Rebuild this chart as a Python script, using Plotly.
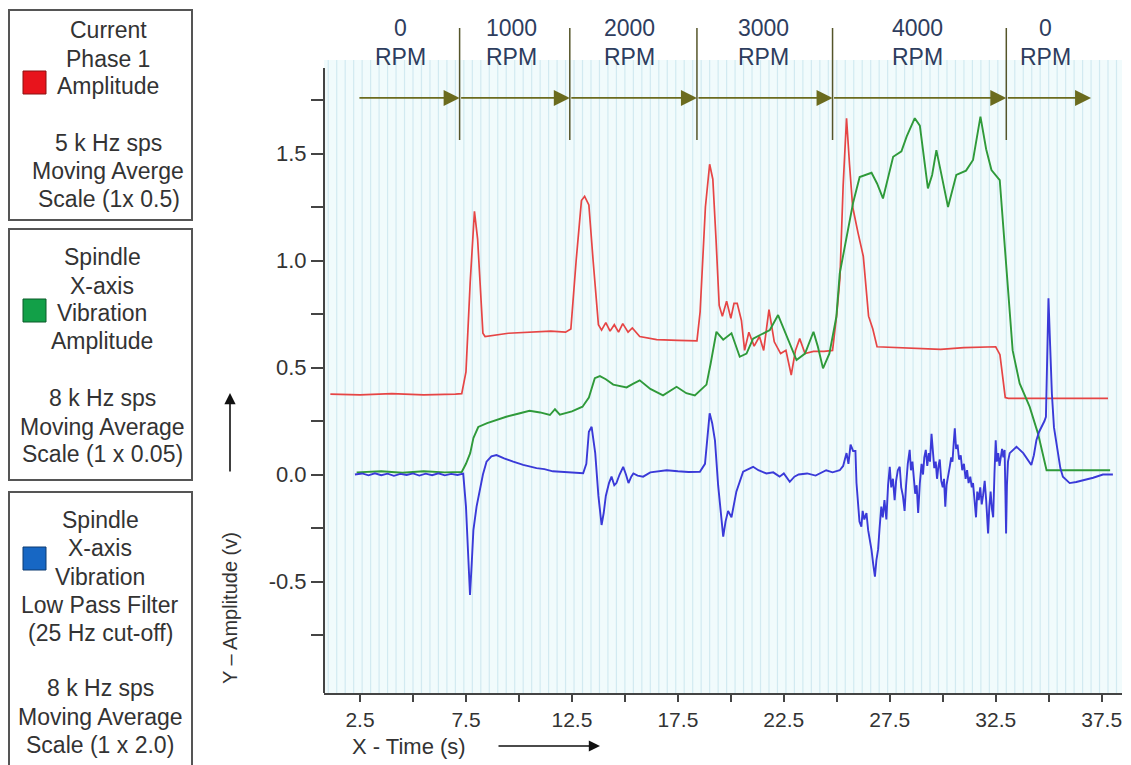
import plotly.graph_objects as go

# ---------------- data ----------------
red_points = [
    (1.1, 0.376), (2.5, 0.372), (4.0, 0.378), (5.5, 0.372), (7.0, 0.376), (7.3, 0.378),
    (7.5, 0.48), (7.7, 0.90), (7.9, 1.23), (8.05, 1.10), (8.3, 0.66), (8.4, 0.645),
    (9.5, 0.66), (10.5, 0.665), (11.5, 0.67), (12.2, 0.665), (12.45, 0.68), (12.7, 1.0),
    (12.95, 1.28), (13.1, 1.30), (13.3, 1.26), (13.5, 1.0), (13.75, 0.70), (13.9, 0.675),
    (14.1, 0.71), (14.3, 0.67), (14.5, 0.70), (14.7, 0.665), (14.9, 0.705), (15.15, 0.665),
    (15.35, 0.685), (15.7, 0.645), (16.5, 0.63), (17.5, 0.627), (18.4, 0.625), (18.55, 0.76),
    (18.8, 1.25), (19.0, 1.45), (19.15, 1.38), (19.3, 1.1), (19.45, 0.79), (19.6, 0.74),
    (19.8, 0.81), (20.0, 0.73), (20.15, 0.80), (20.3, 0.80), (20.5, 0.72), (20.65, 0.58),
    (20.85, 0.665), (21.1, 0.60), (21.35, 0.645), (21.55, 0.58), (21.8, 0.77), (22.05, 0.62),
    (22.35, 0.565), (22.6, 0.58), (22.85, 0.465), (23.05, 0.58), (23.25, 0.635), (23.5, 0.565),
    (23.9, 0.575), (24.4, 0.575), (24.8, 0.58), (25.0, 0.75), (25.15, 0.92), (25.3, 1.35),
    (25.46, 1.665), (25.6, 1.45), (25.75, 1.25), (26.0, 1.13), (26.25, 1.02), (26.5, 0.74),
    (26.7, 0.68), (26.9, 0.597), (28.0, 0.592), (29.0, 0.59), (29.9, 0.585), (31.0, 0.593),
    (32.5, 0.597), (32.7, 0.56), (32.95, 0.36), (33.1, 0.356), (35.0, 0.356), (37.8, 0.356),
]

green_points = [
    (2.34, 0.01), (3.5, 0.015), (4.5, 0.008), (5.5, 0.015), (6.5, 0.01), (7.3, 0.012),
    (7.5, 0.05), (7.7, 0.10), (7.85, 0.17), (8.08, 0.222), (8.5, 0.24), (8.8, 0.25),
    (9.4, 0.27), (10.0, 0.285), (10.5, 0.298), (11.0, 0.29), (11.46, 0.278), (11.7, 0.305),
    (11.93, 0.28), (12.5, 0.295), (13.0, 0.317), (13.3, 0.36), (13.58, 0.45), (13.82, 0.46),
    (14.1, 0.445), (14.45, 0.42), (15.08, 0.407), (15.4, 0.425), (15.7, 0.44), (16.2, 0.40),
    (16.8, 0.37), (17.44, 0.41), (17.9, 0.38), (18.3, 0.37), (18.85, 0.42), (19.05, 0.52),
    (19.32, 0.667), (19.64, 0.63), (20.03, 0.66), (20.42, 0.55), (20.74, 0.565), (21.05, 0.635),
    (21.52, 0.66), (21.84, 0.675), (22.23, 0.745), (22.63, 0.645), (23.1, 0.535), (23.5, 0.565),
    (23.9, 0.667), (24.1, 0.60), (24.35, 0.496), (24.65, 0.565), (24.98, 0.737), (25.14, 0.94),
    (25.46, 1.1), (25.77, 1.27), (26.08, 1.39), (26.64, 1.41), (26.9, 1.36), (27.18, 1.29),
    (27.66, 1.485), (28.05, 1.51), (28.3, 1.58), (28.68, 1.665), (28.92, 1.63), (29.1, 1.50),
    (29.3, 1.337), (29.5, 1.40), (29.7, 1.516), (29.9, 1.42), (30.25, 1.25), (30.64, 1.40),
    (31.1, 1.42), (31.43, 1.47), (31.78, 1.672), (32.05, 1.52), (32.3, 1.423), (32.69, 1.376),
    (33.0, 0.97), (33.3, 0.58), (33.63, 0.426), (34.1, 0.317), (34.5, 0.19), (34.9, 0.02),
    (35.5, 0.02), (37.9, 0.02),
]

blue_points = [
    (2.26, 0.0), (2.6, 0.005), (2.9, -0.004), (3.2, 0.006), (3.5, -0.003), (3.8, 0.004),
    (4.1, -0.006), (4.4, 0.003), (4.7, -0.002), (5.0, 0.005), (5.3, -0.005), (5.6, 0.004),
    (5.9, -0.003), (6.2, 0.006), (6.5, -0.004), (6.8, 0.003), (7.1, -0.002), (7.37, 0.004),
    (7.5, -0.15), (7.6, -0.40), (7.69, -0.563), (7.78, -0.40), (7.85, -0.26), (8.0, -0.15),
    (8.16, -0.072), (8.3, 0.0), (8.47, 0.06), (8.7, 0.085), (8.94, 0.091), (9.3, 0.075),
    (9.73, 0.06), (10.2, 0.045), (10.83, 0.03), (11.2, 0.025), (11.6, 0.015), (12.0, 0.012),
    (12.5, 0.008), (13.03, 0.006), (13.18, 0.05), (13.3, 0.20), (13.43, 0.223), (13.52, 0.15),
    (13.6, 0.10), (13.75, -0.10), (13.9, -0.236), (14.0, -0.18), (14.1, -0.10), (14.25, -0.04),
    (14.37, -0.01), (14.5, -0.05), (14.6, -0.04), (14.75, 0.0), (14.92, 0.036), (15.05, 0.0),
    (15.17, -0.04), (15.3, -0.01), (15.4, 0.005), (15.6, -0.005), (15.86, -0.01), (16.2, 0.01),
    (16.6, 0.015), (16.97, 0.02), (17.5, 0.015), (18.0, 0.012), (18.54, 0.013), (18.78, 0.05),
    (19.0, 0.286), (19.12, 0.24), (19.25, 0.16), (19.4, -0.05), (19.64, -0.29), (19.75, -0.22),
    (19.87, -0.17), (20.03, -0.20), (20.26, -0.08), (20.58, 0.013), (21.05, 0.036), (21.3, 0.02),
    (21.68, 0.005), (22.0, 0.01), (22.3, -0.01), (22.5, 0.005), (22.78, -0.034), (23.0, -0.01),
    (23.2, 0.0), (23.6, 0.005), (24.0, -0.005), (24.3, 0.01), (24.5, 0.02), (24.8, 0.01),
    (25.14, 0.02), (25.3, 0.04), (25.46, 0.10), (25.55, 0.05), (25.65, 0.14), (25.77, 0.11),
    (25.88, 0.11), (25.93, -0.04), (26.0, -0.15), (26.07, -0.22), (26.16, -0.244), (26.22, -0.17),
    (26.3, -0.21), (26.4, -0.18), (26.48, -0.26), (26.56, -0.30), (26.64, -0.353), (26.72, -0.42),
    (26.8, -0.477), (26.87, -0.40), (26.95, -0.35), (27.02, -0.25), (27.1, -0.15), (27.17, -0.20),
    (27.25, -0.12), (27.34, -0.21), (27.42, -0.05), (27.5, 0.036), (27.57, -0.06), (27.65, -0.02),
    (27.73, -0.12), (27.8, -0.03), (27.88, 0.02), (27.97, 0.036), (28.04, -0.06), (28.12, -0.10),
    (28.2, -0.17), (28.27, -0.05), (28.35, 0.05), (28.44, 0.115), (28.5, 0.02), (28.57, 0.06),
    (28.63, -0.03), (28.7, -0.09), (28.77, -0.05), (28.84, -0.18), (28.92, -0.04), (29.0, 0.05),
    (29.07, 0.0), (29.13, 0.08), (29.2, 0.115), (29.27, 0.04), (29.34, 0.10), (29.4, 0.06),
    (29.47, 0.19), (29.54, 0.08), (29.6, 0.03), (29.67, 0.06), (29.73, -0.02), (29.8, 0.04),
    (29.86, 0.07), (29.93, -0.03), (30.0, -0.06), (30.06, -0.02), (30.12, -0.15), (30.18, -0.05),
    (30.25, 0.0), (30.33, 0.036), (30.4, 0.08), (30.46, 0.06), (30.52, 0.15), (30.57, 0.216),
    (30.63, 0.12), (30.7, 0.14), (30.77, 0.07), (30.85, 0.09), (30.92, 0.02), (31.0, 0.05),
    (31.08, -0.02), (31.15, 0.02), (31.22, -0.04), (31.3, -0.01), (31.37, -0.06), (31.43, -0.04),
    (31.5, -0.12), (31.57, -0.20), (31.63, -0.08), (31.7, -0.12), (31.77, -0.06), (31.84, -0.14),
    (31.9, -0.10), (31.98, -0.03), (32.05, -0.12), (32.1, -0.22), (32.14, -0.275), (32.2, -0.15),
    (32.26, -0.08), (32.32, -0.16), (32.38, -0.2), (32.44, 0.0), (32.5, 0.16), (32.55, 0.06),
    (32.62, 0.10), (32.68, 0.04), (32.74, 0.09), (32.8, 0.12), (32.86, 0.08), (32.92, 0.115),
    (32.96, -0.1), (32.99, -0.275), (33.03, -0.05), (33.08, 0.06), (33.16, 0.10), (33.48, 0.13),
    (33.8, 0.10), (34.0, 0.07), (34.18, 0.044), (34.3, 0.09), (34.42, 0.16), (34.55, 0.20),
    (34.68, 0.223), (34.8, 0.25), (34.87, 0.27), (34.95, 0.6), (34.99, 0.823), (35.07, 0.6),
    (35.15, 0.38), (35.25, 0.22), (35.4, 0.115), (35.55, 0.03), (35.67, -0.01), (35.99, -0.04),
    (36.3, -0.035), (36.77, -0.025), (37.1, -0.015), (37.56, 0.0), (38.03, 0.0),
]

rpm_top = ["0", "1000", "2000", "3000", "4000", "0"]
rpm_bottom = ["RPM", "RPM", "RPM", "RPM", "RPM", "RPM"]
rpm_label_x = [4.4, 9.67, 15.24, 21.52, 28.83, 34.83]
rpm_bounds = [2.4, 7.2, 12.4, 18.4, 24.8, 33.0, 37.0]
rpm_arrow_y = 1.76

x_tickvals = [2.5, 7.5, 12.5, 17.5, 22.5, 27.5, 32.5, 37.5]
x_minor = [5, 10, 15, 20, 25, 30, 35]
y_tickvals = [-0.5, 0.0, 0.5, 1.0, 1.5]
y_minor = [-0.75, -0.25, 0.25, 0.75, 1.25, 1.75]

legend1_lines = ["Current", "Phase 1", "Amplitude", "5 k Hz sps", "Moving Averge", "Scale (1x 0.5)"]
legend2_lines = ["Spindle", "X-axis", "Vibration", "Amplitude", "8 k Hz sps", "Moving Average", "Scale (1 x 0.05)"]
legend3_lines = ["Spindle", "X-axis", "Vibration", "Low Pass Filter", "(25 Hz cut-off)", "8 k Hz sps",
                 "Moving Average", "Scale (1 x 2.0)"]

# ---------------- layout geometry ----------------
W, H = 1131, 765
L, R, T, B = 324, 9, 60, 72
PW, PH = W - L - R, H - T - B
X_RANGE = [0.80, 38.46]
Y_RANGE = [-1.021, 1.937]


def fx(px):
    return (px - L) / PW


def fy(py):
    return (H - B - py) / PH


FONT = "Liberation Sans, Arial, sans-serif"
TXT = "#333333"

fig = go.Figure()

for pts, col, w in [(red_points, "#e64545", 1.7), (green_points, "#2f9a3a", 1.9), (blue_points, "#3a3ad8", 1.9)]:
    fig.add_trace(go.Scatter(x=[p[0] for p in pts], y=[p[1] for p in pts], mode="lines",
                             line=dict(color=col, width=w), showlegend=False, hoverinfo="skip"))

shapes = []
# background stripes
k = 0
while 1.0 + 0.4 * k < 38.4:
    xv = 1.0 + 0.4 * k
    shapes.append(dict(type="line", xref="x", yref="paper", x0=xv, x1=xv, y0=0, y1=1,
                       line=dict(color="#d2eaf1", width=1.2), layer="below"))
    k += 1

# y axis line
shapes.append(dict(type="line", xref="paper", yref="y", x0=0, x1=0, y0=Y_RANGE[0], y1=1.90,
                   line=dict(color="#444444", width=2)))

# RPM separators
for xb in rpm_bounds[1:-1]:
    shapes.append(dict(type="line", xref="x", yref="paper", x0=xb, x1=xb, y0=fy(140), y1=fy(28),
                       line=dict(color="#55552a", width=1.5)))

# legend boxes
for top, bot in [(10, 220), (229, 480), (492, 770)]:
    shapes.append(dict(type="rect", xref="paper", yref="paper", x0=fx(9), x1=fx(192), y0=fy(bot), y1=fy(top),
                       line=dict(color="#555555", width=2), fillcolor="rgba(0,0,0,0)"))
for top, col, edge in [(71, "#e8141c", "#8a1010"), (299, "#12a048", "#0b5a28"), (547, "#1767c4", "#0d3a70")]:
    shapes.append(dict(type="rect", xref="paper", yref="paper", x0=fx(23), x1=fx(46), y0=fy(top + 23), y1=fy(top),
                       line=dict(color=edge, width=1), fillcolor=col))

annotations = []


def label(px, py, txt, size, color=TXT, angle=0):
    annotations.append(dict(x=fx(px), y=fy(py), xref="paper", yref="paper", text=txt, showarrow=False,
                            xanchor="center", yanchor="middle", textangle=angle,
                            font=dict(family=FONT, size=size, color=color)))


# RPM arrows and labels
for i in range(len(rpm_bounds) - 1):
    annotations.append(dict(x=rpm_bounds[i + 1], y=rpm_arrow_y, ax=rpm_bounds[i], ay=rpm_arrow_y,
                            xref="x", yref="y", axref="x", ayref="y", text="", showarrow=True,
                            arrowhead=2, arrowsize=2.0, arrowwidth=1.6, arrowcolor="#6b6b1e"))
for xl, t1, t2 in zip(rpm_label_x, rpm_top, rpm_bottom):
    for txt, py in [(t1, 28), (t2, 57)]:
        annotations.append(dict(x=xl, y=fy(py), xref="x", yref="paper", text=txt, showarrow=False,
                                xanchor="center", yanchor="middle",
                                font=dict(family=FONT, size=23, color="#2e3d5e")))

# legend texts
leg1_y = [30, 59, 86, 143, 171, 199]
leg1_x = [108, 108, 108, 108, 108, 109]
leg2_y = [257, 286, 313, 341, 398, 427, 454]
leg3_y = [520, 548, 577, 605, 633, 688, 717, 745]
for lines, ys, xs in [(legend1_lines, leg1_y, leg1_x), (legend2_lines, leg2_y, [102] * 7),
                      (legend3_lines, leg3_y, [100] * 8)]:
    for txt, py, px in zip(lines, ys, xs):
        label(px, py, txt, 23)

# axis titles and their arrows
label(230, 608, "Y \u2013 Amplitude (v)", 20, angle=-90)
annotations.append(dict(x=fx(230), y=fy(393), xref="paper", yref="paper", text="", showarrow=True,
                        ax=0, ay=80, arrowhead=2, arrowsize=1.4, arrowwidth=1.6, arrowcolor="#111111"))
label(409, 746, "X - Time (s)", 22)
annotations.append(dict(x=fx(600), y=fy(746), xref="paper", yref="paper", text="", showarrow=True,
                        ax=-103, ay=0, arrowhead=2, arrowsize=1.4, arrowwidth=1.6, arrowcolor="#111111"))

fig.update_layout(
    width=W, height=H,
    margin=dict(l=L, r=R, t=T, b=B),
    paper_bgcolor="white",
    plot_bgcolor="#f1fbfc",
    font=dict(family=FONT, color=TXT),
    shapes=shapes,
    annotations=annotations,
    xaxis=dict(range=X_RANGE, showgrid=False, zeroline=False, showline=True, linecolor="#444444", linewidth=2,
               ticks="outside", ticklen=7, tickwidth=2, tickcolor="#444444",
               tickmode="array", tickvals=x_tickvals, ticktext=[f"{v:.1f}" for v in x_tickvals],
               tickfont=dict(family=FONT, size=21, color=TXT),
               minor=dict(tickmode="array", tickvals=x_minor, ticks="outside", ticklen=7, tickwidth=2,
                          tickcolor="#444444", showgrid=False)),
    yaxis=dict(range=Y_RANGE, showgrid=False, zeroline=False, showline=False,
               ticks="outside", ticklen=12, tickwidth=2, tickcolor="#444444",
               tickmode="array", tickvals=y_tickvals, ticktext=[f"{v:.1f}" for v in y_tickvals],
               tickfont=dict(family=FONT, size=22, color=TXT),
               minor=dict(tickmode="array", tickvals=y_minor, ticks="outside", ticklen=12, tickwidth=2,
                          tickcolor="#444444", showgrid=False)),
)

fig.write_html("out.html", config={"displayModeBar": False},
               post_script="document.body.style.margin='0px';document.body.style.overflow='hidden';")
